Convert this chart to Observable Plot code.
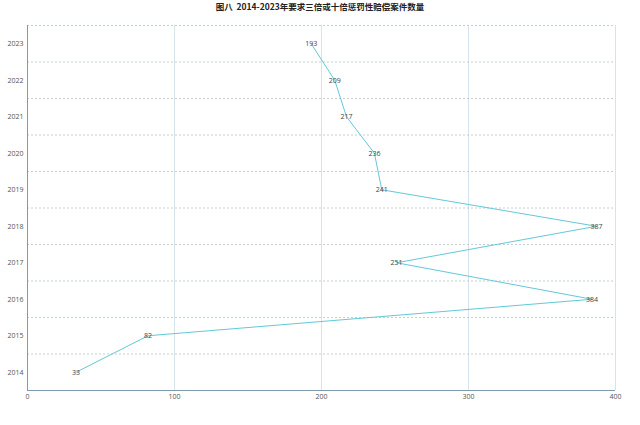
<!DOCTYPE html>
<html>
<head>
<meta charset="utf-8">
<script src="https://cdn.jsdelivr.net/npm/d3@7"></script>
<script src="https://cdn.jsdelivr.net/npm/@observablehq/plot@0.6"></script>
<style>
  html, body { margin: 0; padding: 0; background: #fff; }
  #title { height: 14px; line-height: 12px; text-align: center; font-family: "Noto Sans CJK SC", sans-serif; font-size: 8.5px; font-weight: bold; color: #222; }
  #chart svg { display: block; }
</style>
</head>
<body>
<div id="title">图八&nbsp;&nbsp;2014-2023年要求三倍或十倍惩罚性赔偿案件数量</div>
<div id="chart"></div>
<script>
const years = [2014, 2015, 2016, 2017, 2018, 2019, 2020, 2021, 2022, 2023];
const counts = [33, 82, 384, 251, 387, 241, 236, 217, 209, 193];
const xTicks = [0, 100, 200, 300, 400];

const data = years.map((y, i) => ({year: y, count: counts[i]}));
const boundaries = years.map(y => y + 0.5);

const chart = Plot.plot({
  width: 640,
  height: 411,
  marginTop: 11,
  marginBottom: 35,
  marginLeft: 27,
  marginRight: 25,
  style: {fontFamily: "'Open Sans', 'Noto Sans', sans-serif", fontSize: "7px", color: "#555", background: "#fff"},
  x: {domain: [0, 400], ticks: xTicks, tickSize: 0, tickPadding: 4, label: null},
  y: {domain: [years[0] - 0.5, years[years.length - 1] + 0.5], ticks: years, tickFormat: d => String(d), tickSize: 0, tickPadding: 4, label: null},
  marks: [
    Plot.ruleX(xTicks.slice(1), {stroke: "#d6e3e9", strokeWidth: 1}),
    Plot.ruleY(boundaries, {stroke: "#c3ced4", strokeWidth: 1, strokeDasharray: "2,2"}),
    Plot.ruleX([0], {stroke: "#7f9aa8", strokeWidth: 1}),
    Plot.ruleY([years[0] - 0.5], {stroke: "#7f9aa8", strokeWidth: 1}),
    Plot.line(data, {x: "count", y: "year", stroke: "#62c9d8", strokeWidth: 1}),
    Plot.text(data, {x: "count", y: "year", text: d => String(d.count), fill: "#444", fontSize: 7})
  ]
});
document.getElementById("chart").appendChild(chart);
</script>
</body>
</html>
